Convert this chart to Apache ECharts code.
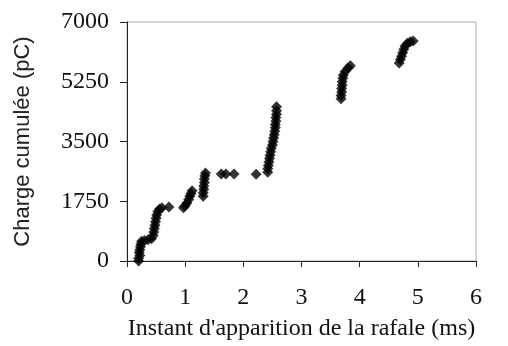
<!DOCTYPE html>
<html>
<head>
<meta charset="utf-8">
<script src="https://cdn.jsdelivr.net/npm/echarts@6/dist/echarts.min.js"></script>
<style>html,body{margin:0;padding:0;background:#fff;}#c{width:508px;height:346px;}</style>
</head>
<body>
<div id="c"></div>
<script>
var burstTimes = [
  0.20,0.20,0.22,0.21,0.22,0.23,0.24,0.25,0.30,0.36,0.42,
  0.45,0.46,0.47,0.48,0.49,0.50,0.51,0.53,0.56,0.60,0.72,
  0.97,1.00,1.03,1.06,1.08,1.10,1.12,
  1.31,1.31,1.32,1.32,1.33,1.33,1.34,1.35,
  1.62,1.70,1.84,2.22,
  2.42,2.42,2.43,2.44,2.45,2.46,2.47,2.48,2.50,2.51,2.52,2.53,2.54,2.55,2.55,2.56,2.56,2.57,2.57,2.57,
  3.68,3.68,3.69,3.69,3.70,3.70,3.71,3.72,3.75,3.80,3.84,
  4.68,4.70,4.72,4.74,4.76,4.78,4.82,4.87,4.92
];
var cumulCharge = [
  0,80,160,250,330,420,500,580,600,620,650,
  750,850,950,1050,1150,1250,1350,1450,1520,1560,1580,
  1560,1620,1700,1800,1900,1980,2060,
  1900,2000,2100,2200,2300,2400,2500,2580,
  2550,2550,2550,2540,
  2600,2700,2800,2900,3000,3100,3200,3300,3400,3500,3600,3700,3800,3900,4000,4100,4200,4300,4400,4520,
  4750,4850,4950,5050,5150,5250,5350,5450,5550,5650,5720,
  5800,5900,6000,6100,6200,6300,6380,6420,6440
];
var xTicks = [0,1,2,3,4,5,6];
var yTicks = [0,1750,3500,5250,7000];

var pts = burstTimes.map(function(x,i){return [x, cumulCharge[i]];});
var chart = echarts.init(document.getElementById('c'), null, {renderer:'canvas'});
chart.setOption({
  animation:false,
  backgroundColor:'#fff',
  grid:{left:127,right:32,top:22,bottom:85,containLabel:false,outerBoundsMode:'none',
    show:true,borderColor:'#aaa',borderWidth:1,backgroundColor:'transparent'},
  xAxis:{
    type:'value',min:xTicks[0],max:xTicks[xTicks.length-1],interval:1,
    name:"Instant d'apparition de la rafale (ms)",nameLocation:'middle',nameGap:56,
    nameTextStyle:{fontFamily:'Liberation Serif',fontSize:24,color:'#111'},
    axisLine:{show:true,lineStyle:{color:'#222',width:1}},
    axisTick:{show:true,length:6,lineStyle:{color:'#222'}},
    axisLabel:{fontFamily:'Liberation Serif',fontSize:24,color:'#111',margin:25},
    splitLine:{show:false}
  },
  yAxis:{
    type:'value',min:yTicks[0],max:yTicks[yTicks.length-1],interval:1750,
    name:'Charge cumulée (pC)',nameLocation:'middle',nameGap:93,
    nameTextStyle:{fontFamily:'Liberation Sans',fontSize:22,color:'#222'},
    axisLine:{show:true,lineStyle:{color:'#222',width:1}},
    axisTick:{show:true,length:7,lineStyle:{color:'#222'}},
    axisLabel:{fontFamily:'Liberation Serif',fontSize:24,color:'#111',margin:18,
      formatter:function(v){return String(v);}},
    splitLine:{show:false}
  },
  series:[{
    type:'scatter',
    data:pts,
    symbol:'diamond',
    symbolSize:11,
    itemStyle:{color:'#000'}
  }]
});
</script>
</body>
</html>
